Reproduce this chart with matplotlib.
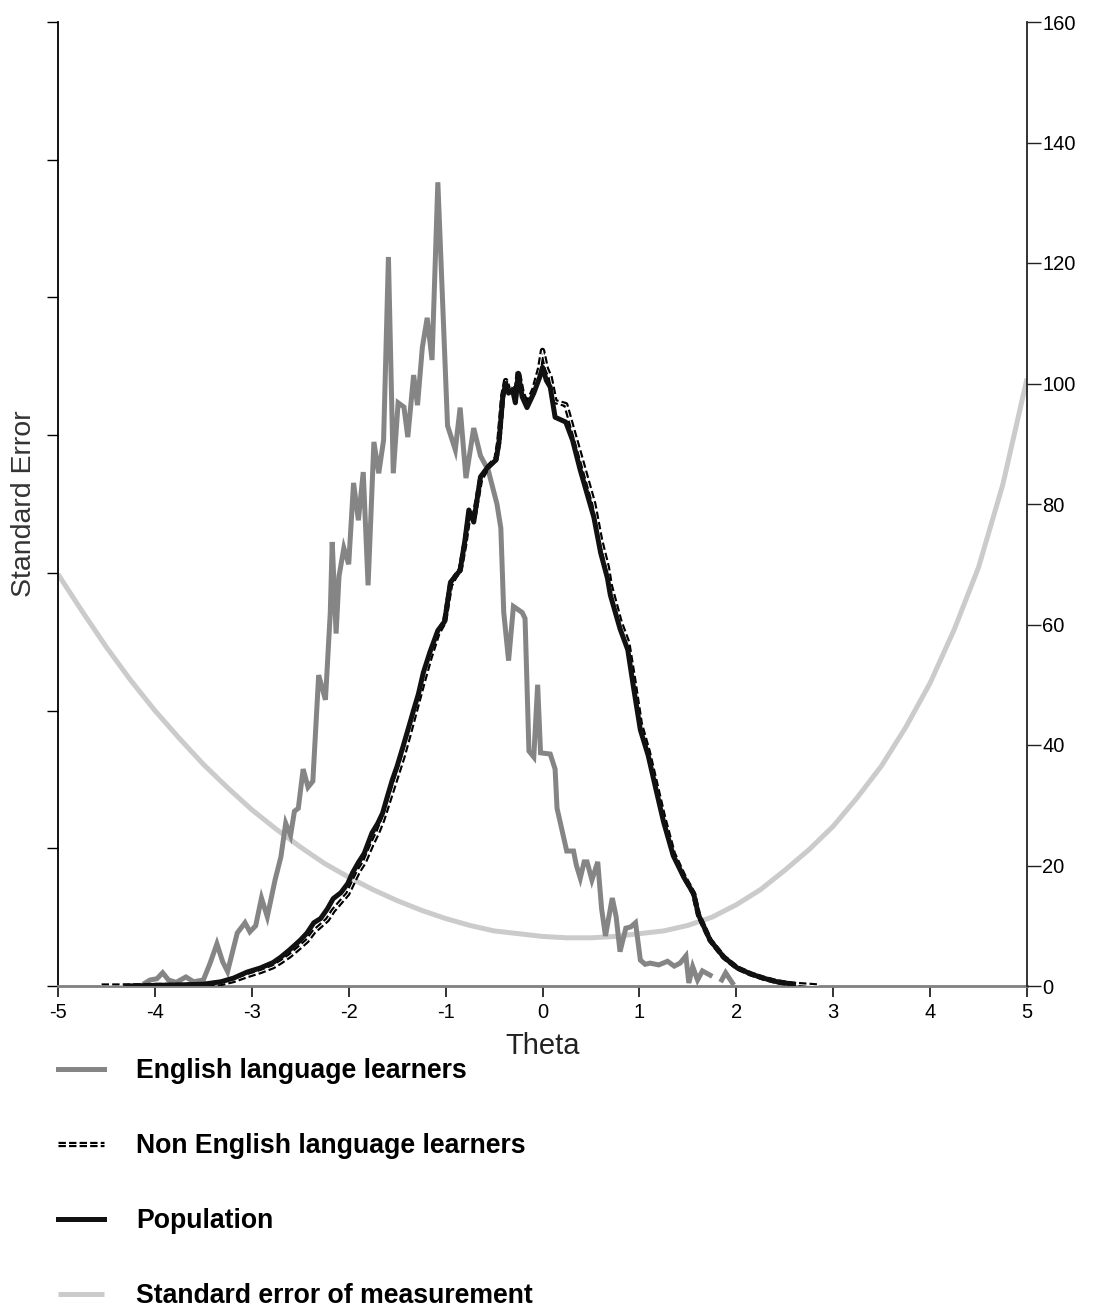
import numpy as np
import matplotlib
matplotlib.use("Agg")
import matplotlib.pyplot as plt

plt.rcParams['font.family'] = ['Liberation Sans', 'DejaVu Sans']
plt.rcParams['axes.unicode_minus'] = False

nan = float('nan')

# ---------------- data ----------------
ell_theta = [-4.10, -4.05, -3.98, -3.92, -3.86, -3.78, -3.68, -3.60, -3.50, -3.43,
             -3.36, -3.30, -3.25, -3.15, -3.07, -3.02, -2.96, -2.90, -2.84, -2.76,
             -2.70, -2.65, -2.60, -2.56, -2.52, -2.47, -2.42, -2.37, -2.31, -2.24,
             -2.19, -2.17, -2.13, -2.10, -2.05, -2.00, -1.95, -1.90, -1.85, -1.80,
             -1.74, -1.69, -1.64, -1.59, -1.54, -1.49, -1.43, -1.39, -1.33, -1.29,
             -1.24, -1.19, -1.14, -1.08, -0.98, -0.90, -0.85, -0.79, -0.71, -0.64,
             -0.56, -0.47, -0.43, -0.40, -0.35, -0.30, -0.21, -0.18, -0.14, -0.09,
             -0.05, -0.02, 0.08, 0.13, 0.15, 0.25, 0.32, 0.35, 0.39, 0.43,
             0.46, 0.51, 0.57, 0.61, 0.65, 0.72, 0.76, 0.80, 0.86, 0.91,
             0.96, 1.01, 1.06, 1.11, 1.20, 1.29, 1.36, 1.42, 1.48, 1.51,
             1.55, 1.60, 1.65, 1.73, 1.79, 1.85, 1.89, 1.96]
ell_vals = [0.5, 1.0, 1.2, 2.2, 1.0, 0.6, 1.5, 0.7, 1.0, 3.8,
            7.0, 4.0, 2.4, 8.8, 10.5, 9.0, 10.0, 14.6, 11.5, 17.6,
            21.4, 27.0, 25.0, 29.0, 29.5, 36.0, 33.0, 34.0, 51.6, 47.5,
            62.0, 73.7, 58.5, 68.0, 72.7, 70.0, 83.5, 77.3, 85.3, 66.5,
            90.3, 85.1, 90.6, 121.0, 85.1, 96.8, 96.1, 91.1, 101.4, 96.4,
            106.0, 110.9, 103.9, 133.4, 93.0, 89.0, 96.0, 84.3, 92.6, 88.0,
            85.6, 80.0, 76.0, 62.0, 54.0, 63.0, 62.0, 61.0, 39.0, 38.0,
            50.0, 38.7, 38.5, 36.0, 29.5, 22.4, 22.4, 20.0, 17.9, 20.6,
            20.6, 17.6, 20.6, 12.8, 8.3, 14.6, 11.5, 5.7, 9.6, 9.8,
            10.5, 4.3, 3.6, 3.8, 3.5, 4.1, 3.3, 3.8, 5.0, 0.5,
            3.2, 1.0, 2.5, 1.8, nan, 1.0, 2.2, 0.5]

pop_theta = [-4.30, -4.00, -3.70, -3.50, -3.32, -3.19, -3.05, -2.91, -2.78, -2.70,
             -2.61, -2.50, -2.43, -2.36, -2.29, -2.22, -2.16, -2.08, -2.01, -1.96,
             -1.90, -1.84, -1.76, -1.70, -1.65, -1.60, -1.55, -1.50, -1.44, -1.38,
             -1.33, -1.28, -1.23, -1.16, -1.08, -1.01, -0.95, -0.90, -0.85, -0.80,
             -0.76, -0.71, -0.64, -0.57, -0.48, -0.45, -0.41, -0.38, -0.35, -0.31,
             -0.28, -0.25, -0.21, -0.16, -0.09, -0.03, 0.00, 0.04, 0.08, 0.13,
             0.24, 0.31, 0.39, 0.46, 0.53, 0.60, 0.67, 0.70, 0.80, 0.88,
             0.94, 1.01, 1.09, 1.17, 1.25, 1.35, 1.46, 1.56, 1.61, 1.73,
             1.87, 2.01, 2.15, 2.28, 2.42, 2.59]
pop_vals = [0.0, 0.1, 0.2, 0.3, 0.7, 1.3, 2.3, 3.0, 3.9, 4.8,
            6.0, 7.6, 8.8, 10.5, 11.2, 12.8, 14.5, 15.5, 17.0, 18.8,
            20.5, 22.0, 25.4, 27.0, 28.7, 31.5, 34.2, 36.5, 39.7, 43.0,
            45.8, 48.5, 52.0, 55.5, 59.0, 60.5, 67.0, 68.0, 69.0, 74.0,
            79.0, 77.0, 84.5, 86.0, 87.3, 90.1, 97.8, 100.0, 98.4, 99.0,
            96.8, 101.7, 97.8, 96.0, 98.4, 101.0, 102.7, 100.5, 99.4, 94.4,
            93.6, 90.6, 85.6, 81.7, 77.8, 71.9, 67.7, 64.9, 59.3, 55.8,
            49.5, 42.5, 38.3, 32.7, 27.2, 21.6, 18.0, 15.3, 11.8, 7.6,
            4.8, 3.0, 2.0, 1.3, 0.7, 0.3]

nonell_theta = [-4.55, -4.30, -4.00, -3.70, -3.50, -3.32, -3.19, -3.05, -2.91, -2.78,
                -2.70, -2.61, -2.50, -2.43, -2.36, -2.29, -2.22, -2.16, -2.08, -2.01,
                -1.96, -1.90, -1.84, -1.76, -1.70, -1.65, -1.60, -1.55, -1.50, -1.44,
                -1.38, -1.33, -1.28, -1.23, -1.16, -1.08, -1.01, -0.95, -0.90, -0.85,
                -0.80, -0.76, -0.71, -0.64, -0.57, -0.48, -0.45, -0.41, -0.38, -0.35,
                -0.31, -0.28, -0.25, -0.21, -0.16, -0.09, -0.03, 0.00, 0.04, 0.08,
                0.13, 0.24, 0.31, 0.39, 0.46, 0.53, 0.60, 0.67, 0.70, 0.80,
                0.88, 0.94, 1.01, 1.09, 1.17, 1.25, 1.35, 1.46, 1.56, 1.61,
                1.73, 1.87, 2.01, 2.15, 2.28, 2.42, 2.59, 2.85]
nonell_vals = [0.0, 0.0, 0.1, 0.1, 0.2, 0.4, 0.9, 1.7, 2.4, 3.2,
               4.0, 5.0, 6.5, 7.5, 9.0, 10.0, 11.0, 12.5, 14.0, 15.3,
               17.0, 19.0, 20.5, 23.5, 25.5, 27.5, 30.0, 32.5, 35.0, 38.0,
               41.5, 44.5, 47.5, 50.5, 54.5, 58.5, 60.5, 66.5, 68.0, 69.0,
               73.5, 78.0, 77.5, 84.0, 86.0, 87.5, 90.5, 98.0, 100.5, 99.0,
               99.5, 97.5, 102.0, 98.5, 96.5, 99.0, 102.5, 105.5, 102.5, 101.0,
               97.0, 96.5, 92.5, 88.0, 84.0, 80.0, 74.0, 69.5, 66.5, 60.5,
               57.0, 51.0, 43.5, 39.0, 33.5, 28.0, 22.0, 18.2, 15.3, 11.8,
               7.6, 4.8, 3.0, 2.0, 1.3, 0.7, 0.3, 0.0]

sem_theta = [-5.00, -4.75, -4.50, -4.25, -4.00, -3.75, -3.50, -3.25, -3.00, -2.75,
             -2.50, -2.25, -2.00, -1.75, -1.50, -1.25, -1.00, -0.75, -0.50, -0.25,
             0.00, 0.25, 0.50, 0.75, 1.00, 1.25, 1.50, 1.75, 2.00, 2.25,
             2.50, 2.75, 3.00, 3.25, 3.50, 3.75, 4.00, 4.25, 4.50, 4.75, 5.00]
sem_vals = [0.299, 0.272, 0.246, 0.222, 0.200, 0.180, 0.161, 0.144, 0.128, 0.114,
            0.101, 0.089, 0.079, 0.070, 0.062, 0.055, 0.049, 0.044, 0.040, 0.038,
            0.036, 0.035, 0.035, 0.036, 0.038, 0.040, 0.044, 0.050, 0.059, 0.070,
            0.084, 0.099, 0.116, 0.137, 0.160, 0.188, 0.220, 0.259, 0.304, 0.364, 0.441]

x_ticks = [-5, -4, -3, -2, -1, 0, 1, 2, 3, 4, 5]
right_ticks = [0, 20, 40, 60, 80, 100, 120, 140, 160]
left_ticks = [0.0, 0.1, 0.2, 0.3, 0.4, 0.5, 0.6, 0.7]

labels = ['English language learners', 'Non English language learners',
          'Population', 'Standard error of measurement']

# ---------------- figure ----------------
W, H = 1099, 1311
fig = plt.figure(figsize=(W / 100, H / 100), dpi=100)
ax = fig.add_axes([58 / W, 1 - 986 / H, (1027 - 58) / W, (986 - 22) / H])
ax2 = ax.twinx()

c_ell = '#858585'
c_sem = '#cbcbcb'
c_pop = '#111111'

sem_line, = ax.plot(sem_theta, sem_vals, color=c_sem, lw=3.6, solid_capstyle='butt',
                    solid_joinstyle='round', zorder=2)

ell_line, = ax2.plot(ell_theta, ell_vals, color=c_ell, lw=3.6, solid_joinstyle='miter', zorder=3)
non_line, = ax2.plot(nonell_theta, nonell_vals, color='black', lw=3.8, ls=(0, (1.4, 0.6)),
                     dash_capstyle='butt', zorder=4)
non_white, = ax2.plot(nonell_theta, nonell_vals, color='white', lw=0.7, zorder=4.5)
pop_line, = ax2.plot(pop_theta, pop_vals, color=c_pop, lw=3.6, zorder=5)

ax.set_xlim(-5, 5)
ax.set_ylim(0, 0.7)
ax2.set_ylim(0, 160)

ax.set_xticks(x_ticks)
ax.set_xticklabels([str(t) for t in x_ticks], fontsize=14.5)
ax.set_yticks(left_ticks)
ax.set_yticklabels([])
ax2.set_yticks(right_ticks)
ax2.set_yticklabels([str(t) for t in right_ticks], fontsize=14.5)

for a in (ax, ax2):
    a.spines['top'].set_visible(False)
ax2.spines['left'].set_visible(False)
ax2.spines['bottom'].set_visible(False)
ax.spines['right'].set_visible(False)
ax.spines['left'].set_color('black')
ax.spines['left'].set_linewidth(1.3)
ax.spines['bottom'].set_color('#808080')
ax.spines['bottom'].set_linewidth(2.0)
ax2.spines['right'].set_color('#222222')
ax2.spines['right'].set_linewidth(1.3)

ax.tick_params(axis='x', direction='out', length=8, width=1.3, color='#222222', pad=4)
ax.tick_params(axis='y', direction='out', length=8, width=1.0, color='black')
ax2.tick_params(axis='y', direction='out', length=10, width=1.0, color='#222222', pad=1)

ax.set_xlabel('Theta', fontsize=21, color='#222222')
ax.xaxis.set_label_coords(0.5, -0.048)
ax.xaxis.label.set_va('top')
ax.set_ylabel('Standard Error', fontsize=20.5, color='#333333')
ax.yaxis.set_label_coords(-0.022, 0.5)

handles = [ell_line, (non_line, non_white), pop_line, sem_line]
fig.legend(handles, labels, loc='upper left', bbox_to_anchor=(58 / W, 1 - 1058 / H),
           frameon=False, prop={'weight': 'bold', 'size': 19.2},
           handlelength=1.72, handletextpad=1.22, labelspacing=1.84,
           borderpad=0, borderaxespad=0)

fig.savefig('out.png', dpi=100)
